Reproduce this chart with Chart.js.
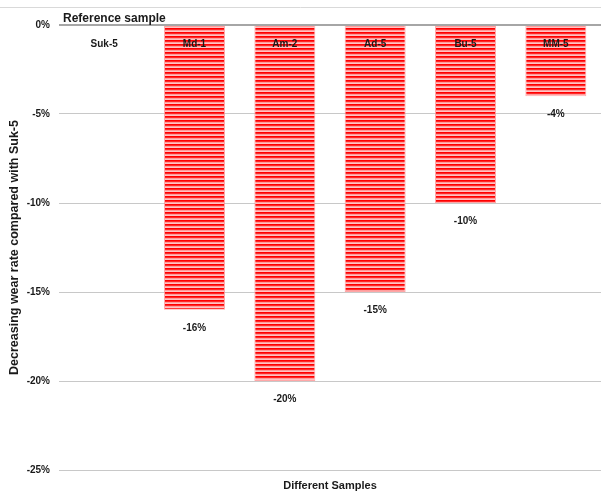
<!DOCTYPE html>
<html lang="en">
<head>
  <meta charset="UTF-8" />
  <title>Decreasing wear rate</title>
  <script src="https://cdn.jsdelivr.net/npm/chart.js"></script>
  <style>
    html, body { margin: 0; padding: 0; background: #fff; }
    #wrap { width: 601px; height: 493px; }
  </style>
</head>
<body>
  <div id="wrap"><canvas id="wearChart" width="601" height="493"></canvas></div>

  <script>
    const samples = ['Suk-5', 'Md-1', 'Am-2', 'Ad-5', 'Bu-5', 'MM-5'];
    const wearChange = [0, -16, -20, -15, -10, -4];
    const yTicks = [0, -5, -10, -15, -20, -25];

    const FONT = "'Liberation Sans', Arial, sans-serif";

    // horizontal red stripes for the bar fill
    function stripePattern() {
      const c = document.createElement('canvas');
      c.width = 4; c.height = 4;
      const g = c.getContext('2d');
      const rows = ['#ff0000', '#ff2828', '#ff9c9c', '#ffc4c4'];
      rows.forEach((col, i) => { g.fillStyle = col; g.fillRect(0, i, 4, 1); });
      return g.createPattern(c, 'repeat');
    }

    const labelsPlugin = {
      id: 'labels',
      afterDraw(chart) {
        const ctx = chart.ctx;
        const area = chart.chartArea;
        const meta = chart.getDatasetMeta(0);
        ctx.save();

        // thin frame line at the top
        ctx.strokeStyle = '#d9d9d9';
        ctx.lineWidth = 1;
        ctx.beginPath();
        ctx.moveTo(0, 7.5);
        ctx.lineTo(chart.width, 7.5);
        ctx.stroke();

        ctx.fillStyle = '#1a1a1a';
        ctx.font = 'bold 12px ' + FONT;
        ctx.textAlign = 'left';
        ctx.textBaseline = 'alphabetic';
        ctx.fillText('Reference sample', 63, 22);

        // sample names just under the zero line
        ctx.font = 'bold 10px ' + FONT;
        ctx.textAlign = 'center';
        ctx.textBaseline = 'middle';
        meta.data.forEach((bar, i) => {
          ctx.fillText(samples[i], bar.x, area.top + 19);
        });

        // value under each bar
        meta.data.forEach((bar, i) => {
          const v = wearChange[i];
          if (v === 0) return;
          ctx.fillText(Math.round(v) + '%', bar.x, bar.y + 18);
        });
        ctx.restore();
      }
    };

    const ctx = document.getElementById('wearChart').getContext('2d');

    new Chart(ctx, {
      type: 'bar',
      data: {
        labels: samples,
        datasets: [{
          data: wearChange,
          backgroundColor: stripePattern(),
          borderColor: 'rgba(255, 130, 130, 0.7)',
          borderWidth: 1,
          borderSkipped: 'start',
          barPercentage: 0.675,
          categoryPercentage: 1
        }]
      },
      options: {
        responsive: false,
        animation: false,
        events: [],
        layout: { padding: { top: 25, right: 0, left: 0, bottom: 0 } },
        plugins: { legend: { display: false }, tooltip: { enabled: false } },
        scales: {
          x: {
            position: 'bottom',
            grid: { display: false },
            border: { display: false },
            ticks: { display: false },
            title: {
              display: true,
              text: 'Different Samples',
              color: '#1a1a1a',
              font: { family: FONT, size: 11, weight: 'bold' },
              padding: { top: 6, bottom: 0 }
            },
            afterFit(scale) { scale.height = 23; }
          },
          y: {
            min: -25,
            max: 0,
            afterBuildTicks(scale) { scale.ticks = yTicks.map(v => ({ value: v })); },
            grid: {
              color: c => c.tick && c.tick.value === 0 ? '#a6a6a6' : '#c8c8c8',
              lineWidth: c => c.tick && c.tick.value === 0 ? 2 : 1,
              drawTicks: false
            },
            border: { display: false },
            ticks: {
              padding: 9,
              color: '#1a1a1a',
              font: { family: FONT, size: 10, weight: 'bold' },
              callback: v => v + '%'
            },
            title: {
              display: true,
              text: 'Decreasing wear rate compared with Suk-5',
              color: '#1a1a1a',
              font: { family: FONT, size: 12.5, weight: 'bold' },
              padding: { top: 7, bottom: 0 }
            },
            afterFit(scale) { scale.width = 59; }
          }
        }
      },
      plugins: [labelsPlugin]
    });
  </script>
</body>
</html>
